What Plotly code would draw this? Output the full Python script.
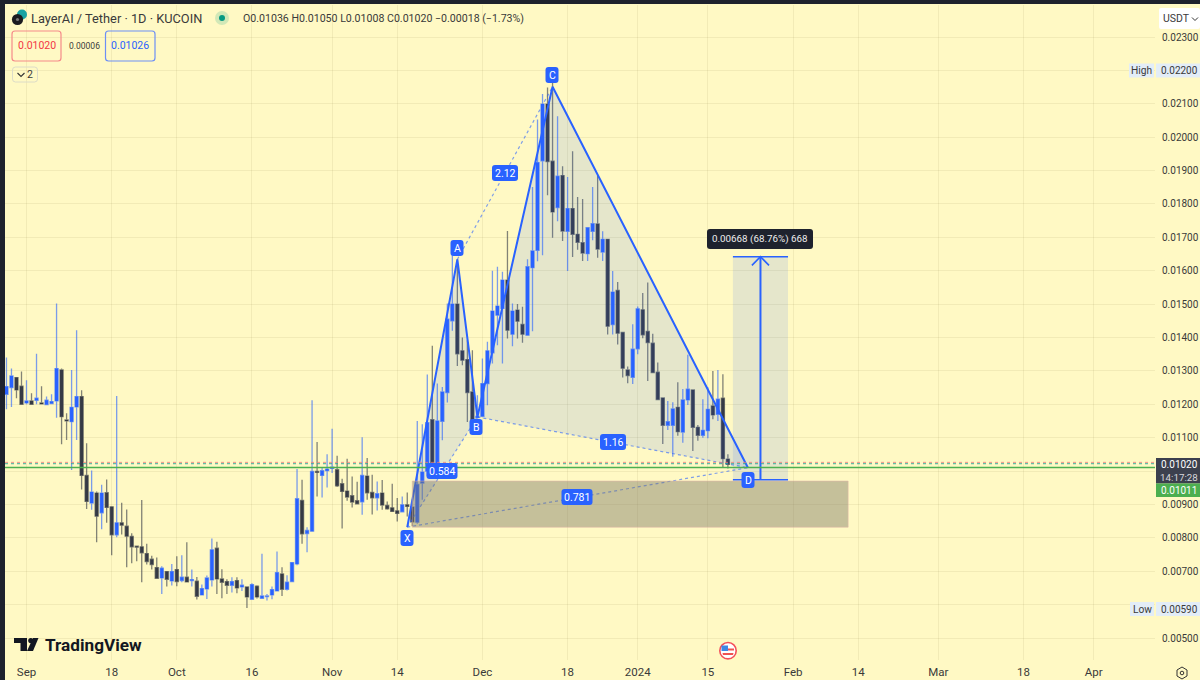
import numpy as np
import pandas as pd
import plotly.graph_objects as go

# ---------- data (prices in units of 0.00001 USDT, one value per daily candle from 2023-08-28) ----------
PRICE_UNIT = 1e-5
FIRST_DAY = "2023-08-28"
opens = [1230,1250,1280,1254,1204,1210,1212,1204,1199,1202,1210,1303,1153,1148,1192,1223,987,904,934,875,
         935,893,809,845,835,804,775,773,753,736,711,680,699,671,705,672,682,672,670,629,
         647,674,769,677,669,658,672,653,653,616,655,619,624,629,641,692,646,669,722,912,
         813,820,999,987,1001,1008,1004,962,940,926,911,908,985,936,920,934,897,890,881,878,
         899,892,847,964,1000,1154,1012,1149,1235,1450,1500,1360,1334,1237,1160,1164,1262,1354,1467,1487,
         1572,1410,1482,1439,1407,1609,1661,1929,2099,1928,1789,1885,1718,1786,1709,1684,1651,1718,1740,1656,
         1694,1439,1541,1415,1303,1281,1366,1483,1418,1383,1296,1219,1137,1137,1191,1117,1213,1243,1131,1107,
         1121,1195,1170,1218,1036]
highs = [1340,1307,1280,1298,1272,1233,1351,1254,1223,1230,1502,1307,1173,1303,1422,1242,1083,1002,939,959,
         975,893,1225,905,885,814,775,913,782,746,741,715,699,722,745,748,787,705,683,660,
         687,798,788,706,676,682,682,676,653,664,658,752,632,654,759,712,688,726,1006,974,
         832,1212,1087,1011,1050,1127,1046,977,1037,984,968,1101,1039,989,969,973,909,962,919,924,
         936,915,1150,1140,1289,1375,1262,1252,1502,1647,1634,1400,1392,1362,1227,1337,1387,1600,1612,1597,
         1719,1502,1500,1492,1634,1851,2053,2129,2149,2200,2063,1913,1881,1958,1821,1815,1731,1851,1886,1718,
         1696,1599,1566,1415,1313,1440,1493,1533,1565,1411,1325,1219,1210,1206,1266,1246,1348,1243,1138,1215,
         1251,1300,1303,1290,1050]
lows = [1185,1192,1218,1200,1200,1198,1200,1200,1197,1200,1160,1080,1093,1003,1093,945,886,884,787,826,
        845,748,802,810,712,724,730,667,720,705,679,632,654,657,655,667,667,654,615,627,
        617,654,632,619,632,636,634,641,590,614,618,618,612,616,640,626,642,668,718,782,
        757,820,924,921,951,994,952,828,911,891,900,869,914,870,882,884,884,877,849,877,
        864,835,842,914,985,1005,1005,1092,1205,1420,1315,1317,1147,1122,1157,1162,1197,1322,1377,1322,
        1397,1374,1397,1384,1407,1419,1628,1646,1826,1699,1748,1689,1599,1641,1663,1629,1629,1691,1639,1629,
        1409,1409,1379,1280,1263,1261,1350,1398,1270,1293,1213,1081,1123,1043,1106,1085,1198,1060,1091,1100,
        1098,1155,1150,1010,1008]
closes = [1253,1285,1243,1200,1210,1200,1218,1201,1212,1208,1307,1163,1150,1191,1223,987,909,937,865,934,
          891,809,845,838,805,773,772,755,729,720,679,709,676,699,669,682,668,675,625,648,
          680,764,677,667,658,669,650,658,623,660,623,626,626,645,696,646,667,726,917,812,
          822,999,996,1001,1006,1012,956,939,922,907,902,987,935,920,932,898,887,879,873,899,
          894,848,960,997,1145,1010,1150,1237,1455,1500,1351,1332,1235,1154,1164,1262,1360,1479,1494,1572,
          1422,1479,1449,1410,1612,1659,1924,2099,1927,1776,1883,1719,1786,1709,1685,1653,1729,1741,1665,1694,
          1434,1536,1413,1308,1286,1365,1486,1408,1385,1295,1214,1137,1148,1186,1118,1213,1245,1131,1107,1122,
          1185,1168,1215,1037,1020]

price_ticks = [500,600,700,800,900,1000,1100,1200,1300,1400,1500,1600,1700,1800,1900,2000,2100,2200,2300]
price_tick_labels = ["0.00500","","0.00700","0.00800","0.00900","","0.01100","0.01200","0.01300","0.01400",
                     "0.01500","0.01600","0.01700","0.01800","0.01900","0.02000","0.02100","0.02200","0.02300"]
date_ticks = ["2023-09-01","2023-09-18","2023-10-01","2023-10-16","2023-11-01","2023-11-14","2023-12-01",
              "2023-12-18","2024-01-01","2024-01-15","2024-02-01","2024-02-14","2024-03-01","2024-03-18","2024-04-01"]
date_labels = ["Sep","18","Oct","16","Nov","14","Dec","18","2024","15","Feb","14","Mar","18","Apr"]

# XABCD pattern pivots
pivot_dates = {"X":"2023-11-16","A":"2023-11-26","B":"2023-11-30","C":"2023-12-15","D":"2024-01-23"}
pivot_prices = {"X":832,"A":1634,"B":1162,"C":2151,"D":1010}
# supply/demand box
zone_dates = ["2023-11-17","2024-02-12"]
zone_prices = [832,970]
# price-range tool
range_dates = ["2024-01-20","2024-01-31"]
range_mid_date = "2024-01-25 12:00"
range_prices = [974,1642]
arrow_dates = ["2024-01-23 19:00","2024-01-25 12:00","2024-01-27 05:00"]
arrow_prices = [1616,1642,1616]

bid_price, ask_price, mark_price = 1022, 1026, 1011

# ---------- style / frame ----------
W, H = 1200, 680
L, R, T, B = 5, 1155, 5, 660
BG = "#fff9c4"
BLUE = "#2962ff"
DARK = "#363a45"
TXT = "#3a3a3a"
FONT = "Roboto, Arial, sans-serif"
ppu = 33.39  # axis calibration
y_lo = 500 - (B - 638) / ppu * 100
y_hi = 2300 + (37 - T) / ppu * 100
px_per_day = 5.01
base = pd.Timestamp("2023-09-01")
x_lo = base + pd.Timedelta(days=(L - 26.5) / px_per_day)
x_hi = base + pd.Timedelta(days=(R - 26.5) / px_per_day)

def PX(x): return (x - L) / (R - L)
def PY(y): return 1 - (y - T) / (B - T)
def P(v): return list(np.array(v, dtype=float) * PRICE_UNIT)

shapes, annos = [], []

def rrect(x0, y0, x1, y1, r, fill, line=None, lw=1):
    path = (f"M{PX(x0+r)},{PY(y0)} L{PX(x1-r)},{PY(y0)} Q{PX(x1)},{PY(y0)} {PX(x1)},{PY(y0+r)} "
            f"L{PX(x1)},{PY(y1-r)} Q{PX(x1)},{PY(y1)} {PX(x1-r)},{PY(y1)} "
            f"L{PX(x0+r)},{PY(y1)} Q{PX(x0)},{PY(y1)} {PX(x0)},{PY(y1-r)} "
            f"L{PX(x0)},{PY(y0+r)} Q{PX(x0)},{PY(y0)} {PX(x0+r)},{PY(y0)} Z")
    shapes.append(dict(type="path", xref="paper", yref="paper", path=path, fillcolor=fill,
                       line=dict(color=line or fill, width=lw if line else 0)))

def poly(pts, fill=None, line=None, lw=1, close=True):
    path = "M" + " L".join(f"{PX(a)},{PY(b)}" for a, b in pts) + (" Z" if close else "")
    shapes.append(dict(type="path", xref="paper", yref="paper", path=path,
                       fillcolor=fill or "rgba(0,0,0,0)",
                       line=dict(color=line or "rgba(0,0,0,0)", width=lw if line else 0)))

def circle(cx, cy, r, fill, line=None, lw=1):
    shapes.append(dict(type="circle", xref="paper", yref="paper", x0=PX(cx-r), x1=PX(cx+r),
                       y0=PY(cy+r), y1=PY(cy-r), fillcolor=fill,
                       line=dict(color=line or fill, width=lw if line else 0)))

def text(x, y, s, size=11, color=TXT, anchor="center", bold=False, family=FONT):
    annos.append(dict(xref="paper", yref="paper", x=PX(x), y=PY(y), text=f"<b>{s}</b>" if bold else s,
                      showarrow=False, xanchor=anchor, yanchor="middle", borderpad=0,
                      font=dict(size=size, color=color, family=family)))

# ---------- traces ----------
dates = pd.date_range(FIRST_DAY, periods=len(opens), freq="D")
fig = go.Figure()
fig.add_trace(go.Candlestick(
    x=dates, open=P(opens), high=P(highs), low=P(lows), close=P(closes),
    increasing=dict(fillcolor=BLUE, line=dict(color="rgba(41,98,255,0.62)", width=1.3)),
    decreasing=dict(fillcolor=DARK, line=dict(color="rgba(54,58,69,0.62)", width=1.3)),
    whiskerwidth=0, showlegend=False, hoverinfo="skip"))

def tri(a, b, c):
    fig.add_trace(go.Scatter(x=[pivot_dates[k] for k in (a, b, c, a)],
                             y=P([pivot_prices[k] for k in (a, b, c, a)]),
                             mode="lines", fill="toself", fillcolor="rgba(41,98,255,0.12)",
                             line=dict(width=0), showlegend=False, hoverinfo="skip"))
tri("X", "A", "B")
tri("B", "C", "D")

for a, b in [("X","B"),("A","C"),("B","D"),("X","D")]:
    fig.add_trace(go.Scatter(x=[pivot_dates[a], pivot_dates[b]], y=P([pivot_prices[a], pivot_prices[b]]),
                             mode="lines", line=dict(color="rgba(41,98,255,0.6)", width=1.2, dash="dot"),
                             showlegend=False, hoverinfo="skip"))
order = ["X","A","B","C","D"]
fig.add_trace(go.Scatter(x=[pivot_dates[k] for k in order], y=P([pivot_prices[k] for k in order]),
                         mode="lines", line=dict(color=BLUE, width=2), showlegend=False, hoverinfo="skip"))

# zone box
fig.add_trace(go.Scatter(
    x=[zone_dates[0], zone_dates[1], zone_dates[1], zone_dates[0], zone_dates[0]],
    y=P([zone_prices[0], zone_prices[0], zone_prices[1], zone_prices[1], zone_prices[0]]),
    mode="lines", fill="toself", fillcolor="rgba(120,116,100,0.43)",
    line=dict(color="rgba(225,180,170,0.55)", width=1), showlegend=False, hoverinfo="skip"))
# price range tool
fig.add_trace(go.Scatter(
    x=[range_dates[0], range_dates[1], range_dates[1], range_dates[0], range_dates[0]],
    y=P([range_prices[0], range_prices[0], range_prices[1], range_prices[1], range_prices[0]]),
    mode="lines", fill="toself", fillcolor="rgba(41,98,255,0.12)",
    line=dict(width=0), showlegend=False, hoverinfo="skip"))
for p in range_prices:
    fig.add_trace(go.Scatter(x=range_dates, y=P([p, p]), mode="lines", line=dict(color=BLUE, width=1.6),
                             showlegend=False, hoverinfo="skip"))
fig.add_trace(go.Scatter(x=[range_mid_date, range_mid_date], y=P(range_prices), mode="lines",
                         line=dict(color=BLUE, width=2), showlegend=False, hoverinfo="skip"))
fig.add_trace(go.Scatter(x=arrow_dates, y=P(arrow_prices), mode="lines",
                         line=dict(color=BLUE, width=1.6), showlegend=False, hoverinfo="skip"))
# horizontal price lines
fig.add_trace(go.Scatter(x=[x_lo, x_hi], y=P([mark_price]*2), mode="lines",
                         line=dict(color="#4caf50", width=1.5), showlegend=False, hoverinfo="skip"))
fig.add_trace(go.Scatter(x=[x_lo, x_hi], y=P([ask_price]*2), mode="lines",
                         line=dict(color="rgba(239,120,120,0.8)", width=1, dash="dot"), showlegend=False, hoverinfo="skip"))
fig.add_trace(go.Scatter(x=[x_lo, x_hi], y=P([bid_price]*2), mode="lines",
                         line=dict(color="rgba(38,166,154,0.9)", width=1, dash="dot"), showlegend=False, hoverinfo="skip"))

# ---------- chrome ----------
# window frame
poly([(0,0),(W,0),(W,T-1),(0,T-1)], fill="#1e222d")
poly([(0,0),(L,0),(L,H),(0,H)], fill="#1e222d")

# legend header
circle(22, 14.5, 5, "#17a2a2")
circle(17.5, 19.5, 5.6, "#1b1b1f")
circle(17.5, 19.5, 1.6, "#777777")
text(30, 18.5, "LayerAI / Tether · 1D · KUCOIN", size=12.8, anchor="left")
circle(222, 18, 7, "rgba(8,153,129,0.18)")
circle(222, 18, 3, "#089981")
text(242, 18.5, "O0.01036 H0.01050 L0.01008 C0.01020 −0.00018 (−1.73%)", size=10.6, anchor="left")
rrect(12, 31, 61, 61, 3, "rgba(255,255,255,0)", line="#f58a8a", lw=1.2)
text(36.5, 46, "0.01020", size=10.5, color="#f23645")
text(84, 46, "0.00006", size=8.5)
rrect(105.5, 31, 155, 61, 3, "rgba(255,255,255,0)", line="#6d8ff5", lw=1.2)
text(130, 46, "0.01026", size=10.5, color="#2962ff")
rrect(12.5, 67, 37.5, 82, 3, "rgba(255,255,255,0)", line="#dcdcc8", lw=1)
poly([(17.5,73),(21,76.5),(24.5,73)], line="#333333", lw=1.1, close=False)
text(30.5, 74.5, "2", size=10.5)

# pattern labels
for lab, cx, cy in [("X",407,538),("A",457,248),("B",476,427),("C",552,75),("D",748,480)]:
    rrect(cx-6.5, cy-8, cx+6.5, cy+8, 3, BLUE)
    text(cx, cy+0.5, lab, size=10.5, color="white")
for lab, cx, cy, hw in [("2.12",505,173,13),("0.584",442,471,15.5),("1.16",613,442,13),("0.781",577,497,15.5)]:
    rrect(cx-hw, cy-8, cx+hw, cy+8, 3, BLUE)
    text(cx, cy+0.5, lab, size=10.5, color="white")
rrect(707, 229, 813, 249, 3, "#1e222d")
text(760, 239, "0.00668 (68.76%) 668", size=9.8, color="#eeeeee")

# price scale tags
rrect(1159, 8, 1200, 29, 2, "white")
text(1162, 18.5, "USDT", size=10.5, anchor="left")
poly([(1192,17.5),(1195,20.5),(1198,17.5)], line="#333333", lw=1, close=False)
poly([(1129,63.5),(1154,63.5),(1154,77.5),(1129,77.5)], fill="#e3edf7")
poly([(1156,63.5),(1200,63.5),(1200,77.5),(1156,77.5)], fill="#e3edf7")
text(1141.5, 70.5, "High", size=10.2)
text(1179, 70.5, "0.02200", size=10)
poly([(1130,602),(1154,602),(1154,616),(1130,616)], fill="#e3edf7")
poly([(1156,602),(1200,602),(1200,616),(1156,616)], fill="#e3edf7")
text(1142, 609, "Low", size=10.2)
text(1179, 609, "0.00590", size=10)
poly([(1156,458),(1200,458),(1200,483.5),(1156,483.5)], fill="#3c404e")
text(1179, 464.3, "0.01020", size=10, color="white")
text(1179, 477, "14:17:28", size=9.8, color="#d8d8dc")
poly([(1156,483.5),(1200,483.5),(1200,497),(1156,497)], fill="#4caf50")
text(1179, 490.5, "0.01011", size=10, color="white")

# TradingView mark
poly([(14,638),(27,638),(27,651),(20.5,651),(20.5,643),(14,643)], fill="#131722")
circle(30.8, 640.6, 2.6, "#131722")
poly([(33,638),(38.5,638),(33,651),(27,651)], fill="#131722")
text(44, 644.5, "TradingView", size=17.2, color="#131722", anchor="left", bold=True)

# economic event flag
circle(728, 650.7, 8.2, "white", line="#f4505a", lw=1.6)
poly([(722,648.5),(734,648.5),(734,650.5),(722,650.5)], fill="#ef5350")
poly([(722.5,653),(733.5,653),(733,655),(723,655)], fill="#ef5350")
poly([(721.5,645.5),(728,645.5),(728,651),(721.5,651)], fill="#3f87e5")

# settings icon
poly([(1182,667),(1187,670),(1187,676),(1182,679),(1177,676),(1177,670)], line="#333333", lw=1)
circle(1182, 673, 1.8, "rgba(0,0,0,0)", line="#333333", lw=1)

# ---------- layout ----------
GRID = "rgba(130,120,60,0.10)"
fig.update_layout(
    width=W, height=H, autosize=False,
    margin=dict(l=L, r=W-R, t=T, b=H-B, pad=0, autoexpand=False),
    boxgap=0.12,
    paper_bgcolor=BG, plot_bgcolor=BG,
    font=dict(family=FONT, color=TXT, size=11),
    showlegend=False, shapes=shapes, annotations=annos, hovermode=False,
    xaxis=dict(type="date", range=[x_lo, x_hi], tickmode="array", tickvals=date_ticks, ticktext=date_labels,
               showgrid=True, gridcolor=GRID, gridwidth=1, zeroline=False, showline=False, ticks="",
               rangeslider=dict(visible=False), tickfont=dict(size=11.5, color=TXT, family=FONT),
               fixedrange=True, ticklabelstandoff=3),
    yaxis=dict(side="right", range=[y_lo*PRICE_UNIT, y_hi*PRICE_UNIT], tickmode="array",
               tickvals=P(price_ticks), ticktext=price_tick_labels, showgrid=True, gridcolor=GRID, gridwidth=1,
               zeroline=False, showline=False, ticks="", tickfont=dict(size=10, color=TXT, family=FONT),
               fixedrange=True, ticklabelstandoff=6),
)

fig.write_html("out.html", config=dict(displayModeBar=False),
               post_script="document.body.style.margin='0';document.body.style.background='#fff9c4';")
